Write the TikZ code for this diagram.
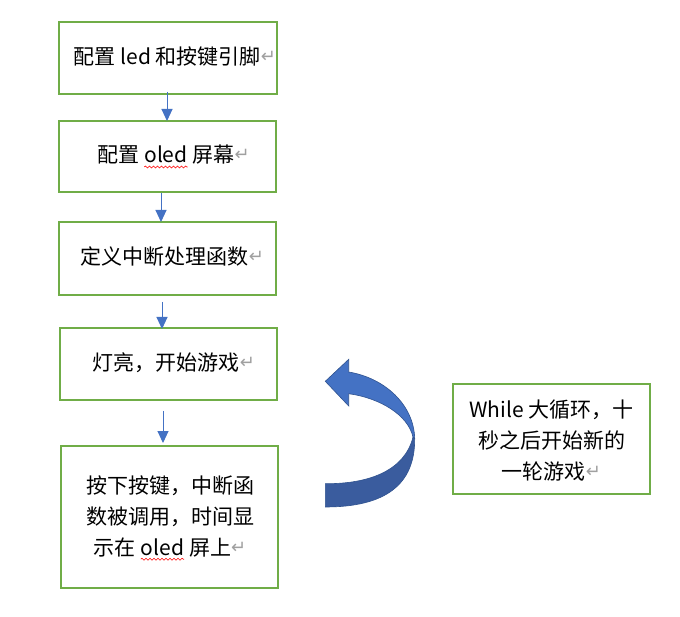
\documentclass[tikz,border=0pt]{standalone}
\usepackage{fontspec}
\setmainfont{Noto Sans CJK SC}
\newfontfamily\symf{DejaVu Sans}
\usetikzlibrary{arrows.meta,decorations.pathmorphing}
\definecolor{boxgreen}{HTML}{70AD47}
\definecolor{arrblue}{HTML}{4472C4}
\definecolor{arrdark}{HTML}{3A5C9E}
\definecolor{arredge}{HTML}{2F528F}
\definecolor{markgray}{HTML}{A0A0A0}
\newcommand\redwave[1]{\tikz[baseline=(w.base),x=1pt,y=1pt]{\node[inner sep=0pt,outer sep=0pt] (w) {#1};
  \draw[red,line width=0.6pt,decorate,decoration={snake,segment length=4pt,amplitude=1pt}] ([yshift=-4pt]w.base west) -- ([yshift=-4pt]w.base east);}}
\newcommand\pmark{\raisebox{2pt}{\symf\fontsize{18}{18}\selectfont\textcolor{markgray}{↵}}}
\begin{document}
\begin{tikzpicture}[x=1pt,y=-1pt,
  box/.style={draw=boxgreen,line width=2pt,minimum width=#1,inner sep=0pt},
  txt/.style={inner sep=0pt,font=\fontsize{21}{31}\selectfont,align=center},
  flow/.style={draw=arrblue,line width=1pt,-{Triangle[width=11pt,length=12pt]}}]
\useasboundingbox (0,0) rectangle (680,617);
\fill[white] (0,0) rectangle (680,617);
% boxes
\node[box=218pt,minimum height=72pt] (b1) at (168,58) {};
\node[box=217pt,minimum height=71pt] (b2) at (167.5,156.5) {};
\node[box=217pt,minimum height=73pt] (b3) at (167.5,258.5) {};
\node[box=217pt,minimum height=72pt] (b4) at (168.5,364) {};
\node[box=217pt,minimum height=142pt] (b5) at (169.5,517) {};
\node[box=197pt,minimum height=110pt] (b6) at (551.5,439) {};
% texts
\node[txt,anchor=base] (t1) at (175,65) {配置 led 和按键引脚\pmark};
\node[txt,anchor=base] (t2) at (173.5,163) {配置 \redwave{oled} 屏幕\pmark};
\node[txt,anchor=base] (t3) at (172.5,265) {定义中断处理函数\pmark};
\node[txt,anchor=base] (t4) at (174,371) {灯亮，开始游戏\pmark};
\node[txt] (t5) at (170,518) {按下按键，中断函\\数被调用，时间显\\示在 \redwave{oled} 屏上\pmark};
\node[txt] (t6) at (551.5,441) {While 大循环，十\\秒之后开始新的\\一轮游戏\pmark};
% connector coordinates
\coordinate (a1s) at (167,92);
\coordinate (a1e) at (167,121);
\coordinate (a2s) at (161,193);
\coordinate (a2e) at (161,222);
\coordinate (a3s) at (162,302);
\coordinate (a3e) at (162,329);
\coordinate (a4s) at (163,411);
\coordinate (a4e) at (163,443);
\draw[flow] (a1s) -- (a1e);
\draw[flow] (a2s) -- (a2e);
\draw[flow] (a3s) -- (a3e);
\draw[flow] (a4s) -- (a4e);
% curved block arrow
\filldraw[fill=arrdark,draw=arredge,line width=0.6pt]
  (414.7,438.7) .. controls (415,485) and (385,507) .. (325.3,507)
  -- (325.3,483.7) .. controls (370,484) and (405,470) .. (413,437) -- cycle;
\filldraw[fill=arrblue,draw=arredge,line width=0.6pt]
  (325.3,381.3) -- (348.7,359.3) -- (348.7,372)
  .. controls (385,378) and (414,405) .. (414.7,438.7)
  -- (413,437) .. controls (408,415) and (380,398) .. (348.7,393.7)
  -- (348.7,406) -- cycle;
\end{tikzpicture}
\end{document}
